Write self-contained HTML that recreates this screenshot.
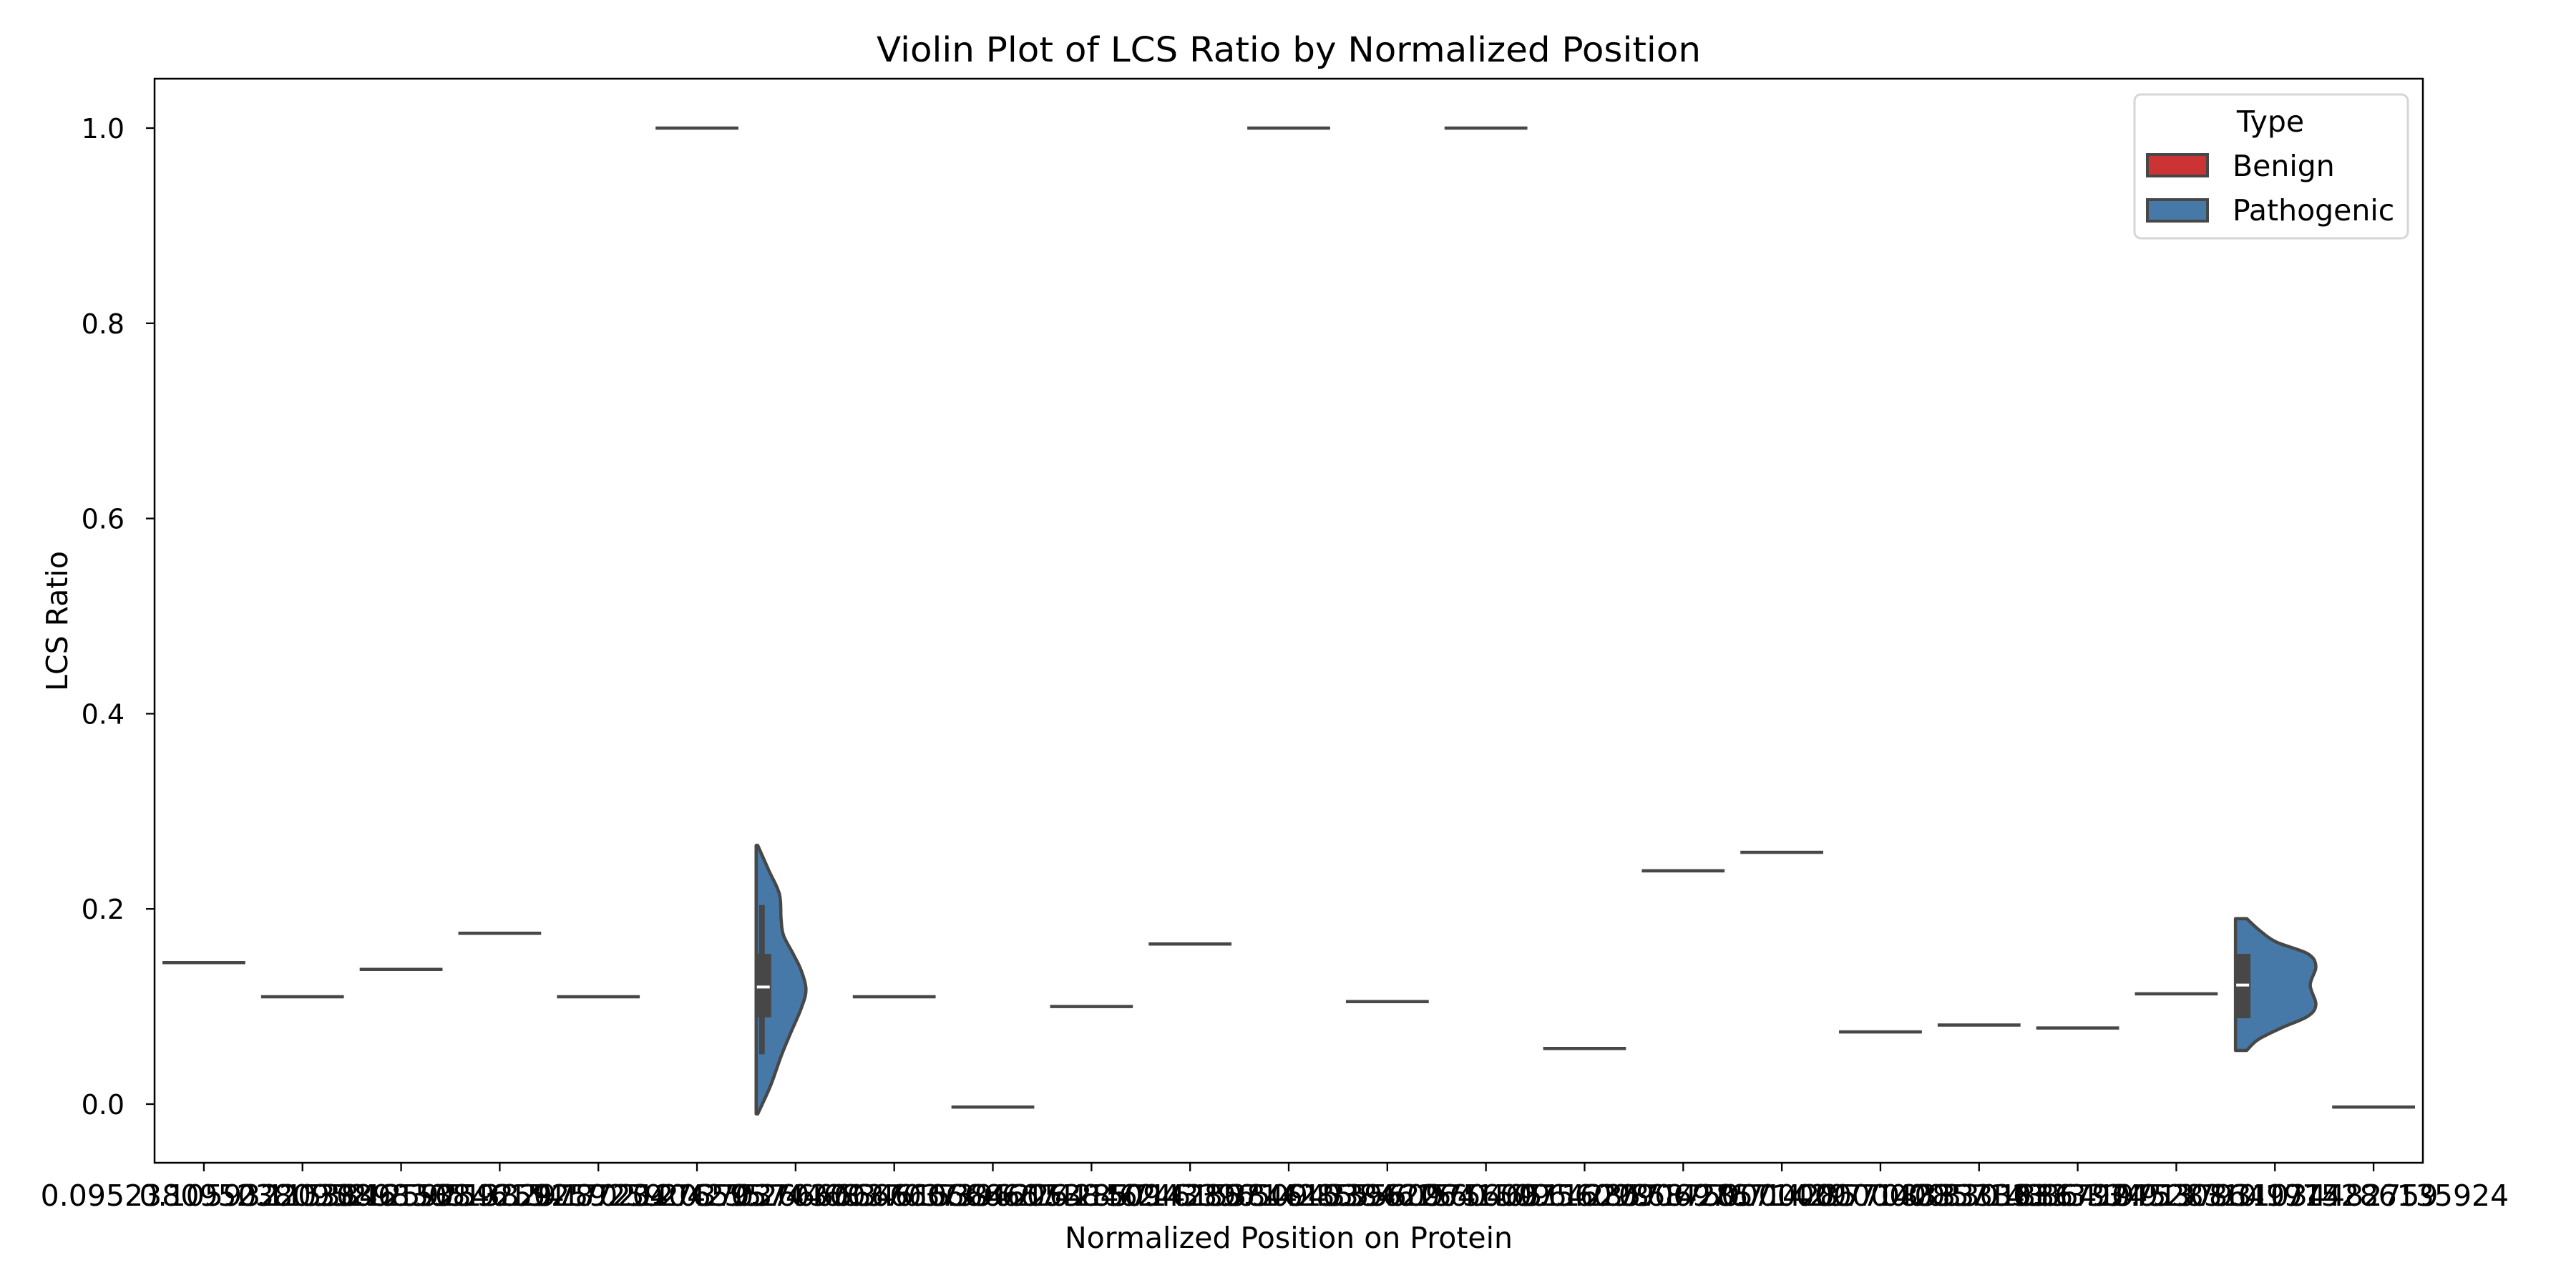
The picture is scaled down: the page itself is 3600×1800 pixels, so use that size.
<!DOCTYPE html>
<html><head><meta charset="utf-8"><style>
html,body{margin:0;padding:0;background:#fff}
svg{display:block}
text{font-family:"DejaVu Sans","Liberation Sans",sans-serif;fill:#000}
</style></head><body>
<svg id="chart" xmlns="http://www.w3.org/2000/svg" width="3600" height="1800" viewBox="0 0 3600 1800">
<rect x="0" y="0" width="3600" height="1800" fill="#fff"/>
<text x="1801" y="86" font-size="48" text-anchor="middle" textLength="1152" lengthAdjust="spacingAndGlyphs">Violin Plot of LCS Ratio by Normalized Position</text>
<g id="plot"></g>
<text x="1801" y="1744" font-size="41" text-anchor="middle">Normalized Position on Protein</text>
<text x="94" y="868" font-size="41" text-anchor="middle" transform="rotate(-90 94 868)">LCS Ratio</text>
<g>
<rect x="2983" y="132" width="382" height="201" rx="9" fill="#fff" fill-opacity="0.8" stroke="#d6d6d6" stroke-width="3"/>
<text x="3173" y="184" font-size="41" text-anchor="middle">Type</text>
<g>
<rect x="3001" y="216" width="84" height="30" fill="#cb3335" stroke="#474747" stroke-width="4"/>
<text x="3120" y="246" font-size="41">Benign</text>
</g>
<g>
<rect x="3001" y="279" width="84" height="30" fill="#4679a8" stroke="#474747" stroke-width="4"/>
<text x="3120" y="308" font-size="41">Pathogenic</text>
</g>
</g>
</svg>
<script>
const categories = ["0.0952380952380952","0.1059322033898305","0.1153846153846154","0.1259259259259259","0.1382978723404255","0.1702127659574468","0.2037037037037037","0.2666666666666667","0.3461538461538462","0.3962264150943396","0.4285714285714285","0.4615384615384615","0.5094339622641509","0.5560975609756098","0.6046511627906976","0.6428571428571429","0.6875000000000000","0.7142857142857143","0.7708333333333334","0.8301886792452831","0.8641975308641975","0.9137931034482759","0.9714286135924"];
const lineValues = [0.145,0.110,0.138,0.175,0.110,1.0,null,0.110,-0.003,0.100,0.164,1.0,0.105,1.0,0.057,0.239,0.258,0.074,0.081,0.078,0.113,null,-0.003];
const yTicks = [0.0,0.2,0.4,0.6,0.8,1.0];
const yTickLabels = ["0.0","0.2","0.4","0.6","0.8","1.0"];
const violin1Cat = 6;
const violin1Values = [0.265,0.239,0.215,0.190,0.173,0.154,0.137,0.117,0.098,0.073,0.049,0.019,-0.010];
const violin1Density = [0.02,0.16,0.29,0.31,0.34,0.46,0.56,0.62,0.56,0.43,0.31,0.18,0.02];
const violin1Box = [0.089,0.154];
const violin1Whisker = [0.051,0.204];
const violin1Median = 0.120;
const violin2Cat = 21;
const violin2Values = [0.190,0.178,0.166,0.154,0.141,0.122,0.102,0.090,0.078,0.066,0.055];
const violin2Density = [0.14,0.30,0.51,0.90,1.0,0.93,1.0,0.90,0.57,0.28,0.14];
const violin2Box = [0.088,0.154];
const violin2Whisker = [0.088,0.154];
const violin2Median = 0.122;

const L=216,R=3386,T=110,B=1625;
const step=(R-L)/categories.length;
const xC=i=>L+step*(i+0.5);
const yV=v=>1543-v*1364;
const NS="http://www.w3.org/2000/svg";
const plot=document.getElementById('plot');
function mk(tag,attrs,parent){const e=document.createElementNS(NS,tag);for(const k in attrs)e.setAttribute(k,attrs[k]);(parent||plot).appendChild(e);return e;}

yTicks.forEach((v,i)=>{
  const t=mk('line',{x1:L-12,x2:L,y1:yV(v),y2:yV(v),stroke:'#000','stroke-width':2.3});
  
  
  const tx=mk('text',{x:L-42,y:yV(v)+14,'font-size':38,'text-anchor':'end'});
  tx.textContent=yTickLabels[i];
  
  
});
categories.forEach((c,i)=>{
  const t=mk('line',{x1:xC(i),x2:xC(i),y1:B,y2:B+12,stroke:'#000','stroke-width':2.3});
  
  
  const tx=mk('text',{x:xC(i),y:1685,'font-size':41,'text-anchor':'middle'});
  tx.textContent=c;
  
  
});
lineValues.forEach((v,i)=>{
  if(v===null)return;
  const l=mk('line',{x1:xC(i)-step*0.42,x2:xC(i)+step*0.42,y1:yV(v),y2:yV(v),stroke:'#474747','stroke-width':4.5});
  
  
});
function violin(cat,vals,dens,box,wh,med){
  const x0=xC(cat)-step*0.4;
  const maxW=step*0.815;
  const pts=vals.map((v,k)=>[x0+dens[k]*maxW,yV(v)]);
  let d='M'+x0+','+pts[0][1]+' L'+pts[0][0]+','+pts[0][1];
  for(let k=0;k<pts.length-1;k++){
    const p0=pts[Math.max(k-1,0)],p1=pts[k],p2=pts[k+1],p3=pts[Math.min(k+2,pts.length-1)];
    const c1=[p1[0]+(p2[0]-p0[0])/6,p1[1]+(p2[1]-p0[1])/6];
    const c2=[p2[0]-(p3[0]-p1[0])/6,p2[1]-(p3[1]-p1[1])/6];
    d+=' C'+c1[0]+','+c1[1]+' '+c2[0]+','+c2[1]+' '+p2[0]+','+p2[1];
  }
  d+=' L'+x0+','+pts[pts.length-1][1]+' Z';
  const p=mk('path',{d:d,fill:'#4679a8',stroke:'#474747','stroke-width':4.5,'stroke-linejoin':'round'});
  
  
  const w=mk('line',{x1:x0+8,x2:x0+8,y1:yV(wh[0]),y2:yV(wh[1]),stroke:'#474747','stroke-width':8});
  
  
  const b=mk('rect',{x:x0,y:yV(box[1]),width:21,height:yV(box[0])-yV(box[1]),fill:'#474747'});
  
  
  const m=mk('line',{x1:x0+1,x2:x0+19,y1:yV(med),y2:yV(med),stroke:'#fff','stroke-width':4});
  
  
}
violin(violin1Cat,violin1Values,violin1Density,violin1Box,violin1Whisker,violin1Median);
violin(violin2Cat,violin2Values,violin2Density,violin2Box,violin2Whisker,violin2Median);
const f=mk('rect',{x:L,y:T,width:R-L,height:B-T,fill:'none',stroke:'#000','stroke-width':2.5});


</script>
</body></html>
